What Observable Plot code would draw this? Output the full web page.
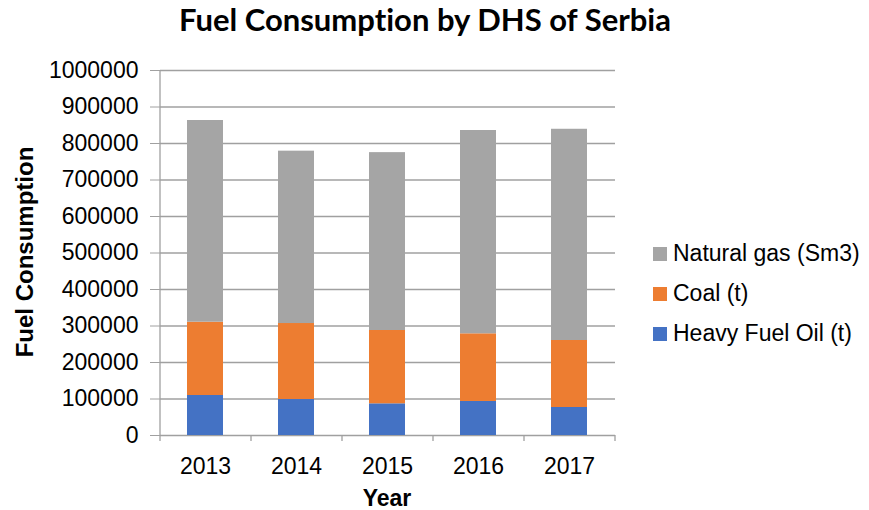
<!DOCTYPE html>
<html>
<head>
<meta charset="utf-8">
<script src="https://cdn.jsdelivr.net/npm/d3@7"></script>
<script src="https://cdn.jsdelivr.net/npm/@observablehq/plot@0.6"></script>
<style>
  html, body { margin: 0; padding: 0; background: #fff; }
  #wrap { position: relative; width: 869px; height: 510px; font-family: "Liberation Sans", Arial, sans-serif; }
  #title { position: absolute; left: 0; width: 850px; top: 0px; line-height: normal; text-align: center; font-family: Lato, "Open Sans", sans-serif; font-weight: 700; font-size: 31px; color: #000; font-variant-ligatures: none; }
  #ylabel { position: absolute; left: 25px; top: 252px; transform: translate(-50%, -50%) rotate(-90deg); white-space: nowrap; font-weight: 700; font-size: 24px; color: #000; }
  #xlabel { position: absolute; left: 387px; top: 485px; transform: translateX(-50%); font-weight: 700; font-size: 23px; color: #000; }
  .leg { position: absolute; left: 653px; font-size: 23px; color: #000; white-space: nowrap; display: flex; align-items: center; }
  .leg span.sw { display: inline-block; width: 14px; height: 14px; margin-right: 6px; }
</style>
</head>
<body>
<div id="wrap">
  <div id="chart"></div>
  <div id="title"></div>
  <div id="ylabel"></div>
  <div id="xlabel"></div>
  <div id="legend"></div>
</div>
<script>
const titleText = "Fuel Consumption by DHS of Serbia";
const yLabel = "Fuel Consumption";
const xLabel = "Year";
const years = ["2013", "2014", "2015", "2016", "2017"];
const heavyFuelOil = [109600, 98600, 86800, 93200, 76700];
const coal = [200800, 208200, 200900, 185400, 183600];
const naturalGas = [552600, 472200, 487300, 557000, 578700];
const seriesNames = ["Heavy Fuel Oil (t)", "Coal (t)", "Natural gas (Sm3)"];
const seriesColors = ["#4472c4", "#ed7d31", "#a5a5a5"];
const yTicks = [0, 100000, 200000, 300000, 400000, 500000, 600000, 700000, 800000, 900000, 1000000];

const seriesValues = [heavyFuelOil, coal, naturalGas];
const data = [];
seriesNames.forEach((s, si) => {
  years.forEach((y, yi) => data.push({year: y, series: s, value: seriesValues[si][yi]}));
});

const gray = "#a0a0a0";

const plot = Plot.plot({
  width: 869,
  height: 510,
  marginTop: 70,
  marginBottom: 75,
  marginLeft: 160,
  marginRight: 254,
  style: {fontFamily: "'Liberation Sans', Arial, sans-serif", fontSize: "23px", color: "#000", background: "#fff"},
  x: {domain: years, paddingInner: 0.6, paddingOuter: 0.3, label: null},
  y: {domain: [0, 1000000], label: null},
  color: {domain: seriesNames, range: seriesColors},
  marks: [
    Plot.ruleY(yTicks, {stroke: gray, strokeWidth: 1.3}),
    Plot.axisY({ticks: yTicks, tickFormat: d3.format("d"), tickSize: 10, tickPadding: 12, stroke: gray, strokeOpacity: 1, label: null, fill: "#000"}),
    Plot.axisX({tickSize: 0, tickPadding: 22, label: null, fill: "#000"}),
    Plot.barY(data, {x: "year", y: "value", fill: "series", order: seriesNames}),
    Plot.ruleX(years.slice(0, 1), {x: d => d, dx: -45.5, y1: 0, y2: 1000000, stroke: gray, strokeWidth: 1.3}),
    Plot.ruleX(years, {x: d => d, dx: -45.5, y1: 0, y2: 0, insetBottom: -6, stroke: gray, strokeWidth: 1.3}),
    Plot.ruleX(years.slice(-1), {x: d => d, dx: 45.5, y1: 0, y2: 0, insetBottom: -6, stroke: gray, strokeWidth: 1.3})
  ]
});
document.getElementById("chart").appendChild(plot);

document.getElementById("title").textContent = titleText;
document.getElementById("ylabel").textContent = yLabel;
document.getElementById("xlabel").textContent = xLabel;

const legendOrder = [2, 1, 0];
const legendTops = [240, 280, 320];
const legend = document.getElementById("legend");
legendOrder.forEach((si, i) => {
  const div = document.createElement("div");
  div.className = "leg";
  div.style.top = legendTops[i] + "px";
  const sw = document.createElement("span");
  sw.className = "sw";
  sw.style.background = seriesColors[si];
  div.appendChild(sw);
  div.appendChild(document.createTextNode(seriesNames[si]));
  legend.appendChild(div);
});
</script>
</body>
</html>
